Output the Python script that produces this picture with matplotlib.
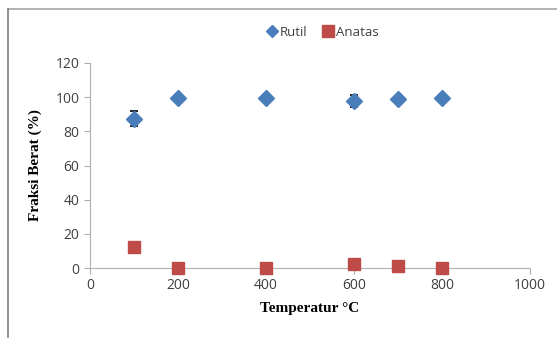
import matplotlib.pyplot as plt
from matplotlib.lines import Line2D

# data
temp = [100, 200, 400, 600, 700, 800]
rutil = [87.5, 99.8, 99.8, 97.8, 98.8, 99.8]
rutil_err = [4.5, 0, 0, 3.5, 1.8, 0]
anatas = [12.5, 0.2, 0.2, 2.2, 1.2, 0.2]

W, H = 557, 338
fig = plt.figure(figsize=(W / 100, H / 100), dpi=100)
ax = fig.add_axes([90 / W, 1 - 268 / H, 440 / W, 205 / H])

# outer chart frame (cropped at right and bottom)
fig.add_artist(Line2D([8 / W, 1], [1 - 9 / H, 1 - 9 / H], color='#a6a6a6', lw=1.2))
fig.add_artist(Line2D([8 / W, 8 / W], [0, 1 - 9 / H], color='#7f7f7f', lw=1.2))

blue = '#4a7ebb'
red = '#be4b48'
# only points that actually carry an error bar
eb = [i for i, e in enumerate(rutil_err) if e > 0]
ax.errorbar([temp[i] for i in eb], [rutil[i] for i in eb], yerr=[rutil_err[i] for i in eb],
            fmt='none', ecolor='black', elinewidth=1, capsize=3, capthick=1.2, zorder=2)
ax.plot(temp, rutil, 'D', color=blue, ms=8, zorder=3, clip_on=False)
ax.plot(temp, anatas, 's', color=red, ms=9, zorder=4, clip_on=False)

ax.set_xlim(0, 1000)
ax.set_ylim(0, 120)
ax.set_xticks(range(0, 1001, 200))
ax.set_yticks(range(0, 121, 20))

for s in ['top', 'right']:
    ax.spines[s].set_visible(False)
for s in ['left', 'bottom']:
    ax.spines[s].set_color('#b0b0b0')
ax.tick_params(colors='#b0b0b0', labelcolor='#404040', labelsize=10, length=4)
for lab in ax.get_xticklabels() + ax.get_yticklabels():
    lab.set_family('Open Sans')

ax.set_xlabel('Temperatur °C', family='Liberation Serif', fontweight='bold', fontsize=11, labelpad=6)
ax.set_ylabel('Fraksi Berat (%)', family='Liberation Serif', fontweight='bold', fontsize=11, labelpad=10)

handles = [Line2D([], [], ls='none', marker='D', color=blue, ms=6, label='Rutil'),
           Line2D([], [], ls='none', marker='s', color=red, ms=8, label='Anatas')]
leg = fig.legend(handles=handles, loc='center', bbox_to_anchor=(322 / W, 1 - 32 / H), ncol=2,
                 frameon=False, handletextpad=0.1, columnspacing=1.0, handlelength=1.0,
                 prop={'family': 'Open Sans', 'size': 9.5})
for t in leg.get_texts():
    t.set_color('#404040')

fig.savefig('out.png', dpi=100)
